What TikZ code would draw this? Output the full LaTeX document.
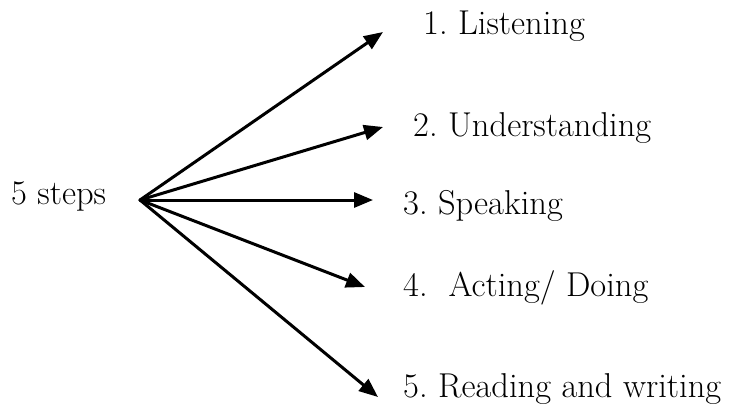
\documentclass[tikz,border=0pt]{standalone}
\usepackage{tikz}
\usetikzlibrary{arrows.meta}

\begin{document}
\frenchspacing
\begin{tikzpicture}[
    x=1pt, y=-1pt,
    steplabel/.style={anchor=base west, inner sep=0pt, font=\fontsize{34.5}{40}\selectfont},
    steparrow/.style={draw=black, line width=3pt, line cap=round, line join=round, -{Triangle[length=19pt,width=15pt]}}
]
  \useasboundingbox (0,0) rectangle (734,410);
  \node[steplabel] (steps) at (11,204) {5 steps};
  \coordinate (hub) at (140,200);
  \node[steplabel] (listen) at (423,34) {1. Listening};
  \node[steplabel] (understand) at (413,136) {2. Understanding};
  \node[steplabel] (speak) at (403,214) {3. Speaking};
  \node[steplabel] (act) at (403,296) {4.\ \ Acting/ Doing};
  \node[steplabel] (read) at (403,397) {5. Reading and writing};
  \coordinate (tiplisten) at (383,32);
  \coordinate (tipunderstand) at (383,127);
  \coordinate (tipspeak) at (373,200);
  \coordinate (tipact) at (365,287);
  \coordinate (tipread) at (378,397);
  \draw[steparrow] (hub) -- (tiplisten);
  \draw[steparrow] (hub) -- (tipunderstand);
  \draw[steparrow] (hub) -- (tipspeak);
  \draw[steparrow] (hub) -- (tipact);
  \draw[steparrow] (hub) -- (tipread);
\end{tikzpicture}
\end{document}
